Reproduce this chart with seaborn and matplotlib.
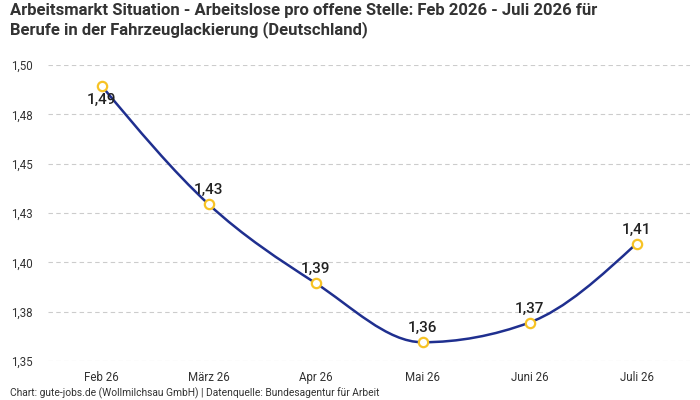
import numpy as np
import pandas as pd
import matplotlib
matplotlib.use("Agg")
import matplotlib.pyplot as plt
from matplotlib.path import Path
from matplotlib.patches import PathPatch
import seaborn as sns

months = ["Feb 26", "März 26", "Apr 26", "Mai 26", "Juni 26", "Juli 26"]
values = [1.4895, 1.4295, 1.3895, 1.3595, 1.3695, 1.4095]
labels = ["1,49", "1,43", "1,39", "1,36", "1,37", "1,41"]
yticks = [1.35, 1.375, 1.40, 1.425, 1.45, 1.475, 1.50]
ytick_labels = ["1,35", "1,38", "1,40", "1,43", "1,45", "1,48", "1,50"]

sns.set_theme(style="white")
plt.rcParams["font.family"] = ["Roboto", "DejaVu Sans"]

df = pd.DataFrame({"x": np.arange(len(months)), "y": values})

fig = plt.figure(figsize=(7, 4), dpi=100)
ax = fig.add_axes([48 / 700, 39 / 400, 642 / 700, 296 / 400])

# monotone cubic (d3 curveMonotoneX style) as bezier path
x = df["x"].to_numpy(float)
y = df["y"].to_numpy(float)
n = len(x)
h = np.diff(x)
s = np.diff(y) / h
t = np.zeros(n)
for i in range(1, n - 1):
    if s[i - 1] * s[i] <= 0:
        t[i] = 0.0
    else:
        p = (s[i - 1] * h[i] + s[i] * h[i - 1]) / (h[i - 1] + h[i])
        t[i] = (np.sign(s[i - 1]) + np.sign(s[i])) * min(abs(s[i - 1]), abs(s[i]), 0.5 * abs(p))
t[0] = (3 * s[0] - t[1]) / 2 if n > 2 else s[0]
t[-1] = (3 * s[-1] - t[-2]) / 2 if n > 2 else s[-1]
verts = [(x[0], y[0])]
codes = [Path.MOVETO]
for i in range(n - 1):
    dx = (x[i + 1] - x[i]) / 3
    verts += [(x[i] + dx, y[i] + dx * t[i]), (x[i + 1] - dx, y[i + 1] - dx * t[i + 1]), (x[i + 1], y[i + 1])]
    codes += [Path.CURVE4] * 3
ax.add_patch(PathPatch(Path(verts, codes), facecolor="none", edgecolor="#1f2f8f", lw=1.8, zorder=3))

sns.scatterplot(data=df, x="x", y="y", ax=ax, s=45, marker="o", facecolor="white",
                edgecolor="#f7c325", linewidth=1.6, zorder=4, legend=False)

for i, (xv, yv, lab) in enumerate(zip(x, y, labels)):
    if i == 0:
        ax.annotate(lab, (xv, yv), xytext=(0, -5.5), textcoords="offset points",
                    ha="center", va="top", fontsize=11, color="#222222", fontweight="medium", zorder=5)
    else:
        ax.annotate(lab, (xv, yv), xytext=(0, 5), textcoords="offset points",
                    ha="center", va="bottom", fontsize=11, color="#222222", fontweight="medium", zorder=5)

ax.set_xlim(-0.5, 5.5)
ax.set_ylim(1.35, 1.50)
ax.set_xticks(range(len(months)))
ax.set_xticklabels(months, fontsize=8.3, color="#333333")
ax.set_yticks(yticks)
ax.set_yticklabels(ytick_labels, fontsize=8.3, color="#333333")
ax.tick_params(axis="x", length=0, pad=7)
ax.tick_params(axis="y", length=0, pad=11)
ax.yaxis.grid(True, linestyle=(0, (4, 3)), color="#cccccc", linewidth=0.8)
ax.xaxis.grid(False)
ax.set_xlabel("")
ax.set_ylabel("")
for sp in ax.spines.values():
    sp.set_visible(False)

fig.text(10 / 700, 1 - 3 / 400, "Arbeitsmarkt Situation - Arbeitslose pro offene Stelle: Feb 2026 - Juli 2026 für\nBerufe in der Fahrzeuglackierung (Deutschland)",
         ha="left", va="top", fontsize=12, fontweight="bold", color="#333333",
         family=["Liberation Sans Narrow", "Roboto", "DejaVu Sans"], linespacing=1.25)
fig.text(10 / 700, 1 - 396 / 400, "Chart: gute-jobs.de (Wollmilchsau GmbH) | Datenquelle: Bundesagentur für Arbeit",
         ha="left", va="baseline", fontsize=7.4, color="#333333")

fig.savefig("out.png", dpi=100)
